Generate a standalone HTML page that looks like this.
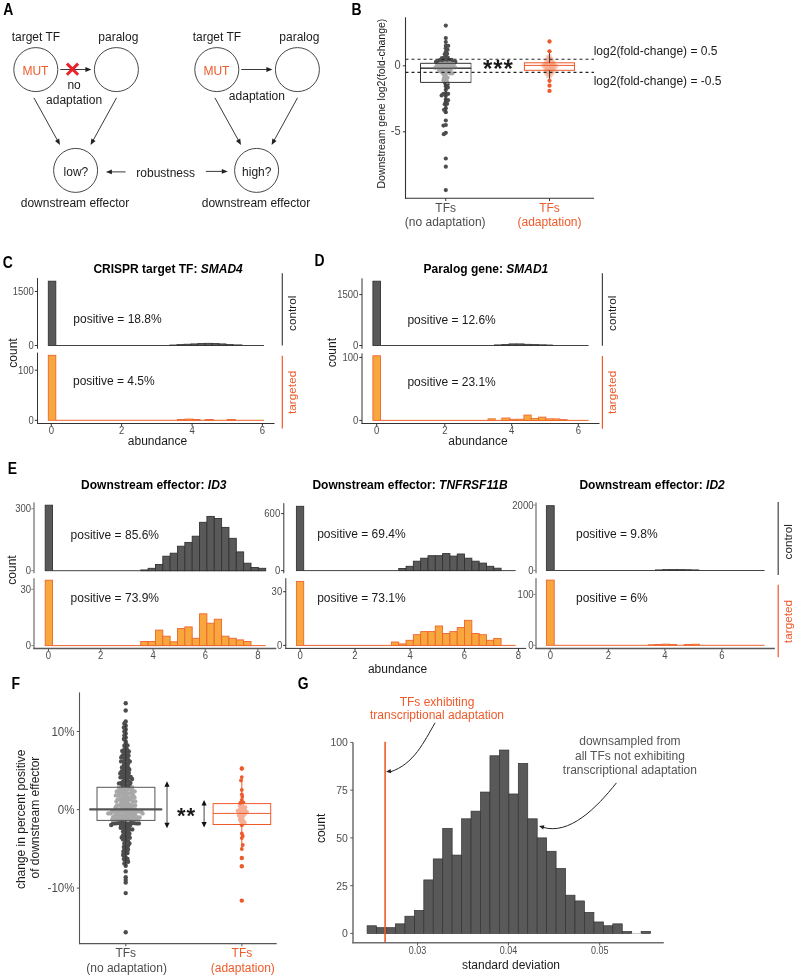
<!DOCTYPE html>
<html><head><meta charset="utf-8"><title>figure</title>
<style>html,body{margin:0;padding:0;background:#fff;} svg{display:block;will-change:transform;font-family:"Liberation Sans", sans-serif;}</style>
</head><body>
<svg width="796" height="977" viewBox="0 0 796 977" font-family='"Liberation Sans", sans-serif'><text transform="translate(3.20,14.90) scale(0.87,1)" font-size="16" font-weight="bold" fill="#000">A</text>
<text transform="translate(351.50,14.90) scale(0.87,1)" font-size="16" font-weight="bold" fill="#000">B</text>
<text transform="translate(2.80,267.60) scale(0.87,1)" font-size="16" font-weight="bold" fill="#000">C</text>
<text transform="translate(314.50,265.90) scale(0.87,1)" font-size="16" font-weight="bold" fill="#000">D</text>
<text transform="translate(7.80,473.60) scale(0.87,1)" font-size="16" font-weight="bold" fill="#000">E</text>
<text transform="translate(11.60,688.60) scale(0.87,1)" font-size="16" font-weight="bold" fill="#000">F</text>
<text transform="translate(297.80,688.90) scale(0.87,1)" font-size="16" font-weight="bold" fill="#000">G</text>
<text x="35.90" y="40.80" font-size="12" text-anchor="middle" fill="#1a1a1a" >target TF</text>
<text x="118.30" y="40.80" font-size="12" text-anchor="middle" fill="#1a1a1a" >paralog</text>
<circle cx="35.80" cy="69.60" r="22.00" fill="none" stroke="#333" stroke-width="0.9"/>
<circle cx="116.40" cy="69.60" r="22.00" fill="none" stroke="#333" stroke-width="0.9"/>
<text x="35.40" y="75.40" font-size="12" text-anchor="middle" fill="#EF5A2A" >MUT</text>
<line x1="60.30" y1="69.50" x2="86.40" y2="69.50" stroke="#222" stroke-width="0.9" />
<polygon points="91.40,69.50 85.40,71.90 85.40,67.10" fill="#222"/>
<path d="M66.90,63.60 L78.10,74.80 M78.10,63.60 L66.90,74.80" stroke="#E8212B" stroke-width="2.9" fill="none"/>
<text x="74.10" y="88.60" font-size="12" text-anchor="middle" fill="#1a1a1a" >no</text>
<text x="74.10" y="103.60" font-size="12" text-anchor="middle" fill="#1a1a1a" >adaptation</text>
<line x1="33.90" y1="97.80" x2="57.58" y2="140.62" stroke="#222" stroke-width="0.9" />
<polygon points="60.00,145.00 55.00,140.91 59.20,138.59" fill="#222"/>
<line x1="116.50" y1="97.80" x2="93.01" y2="140.62" stroke="#222" stroke-width="0.9" />
<polygon points="90.60,145.00 91.38,138.59 95.59,140.89" fill="#222"/>
<circle cx="75.60" cy="170.40" r="22.00" fill="none" stroke="#333" stroke-width="0.9"/>
<text x="75.00" y="207.10" font-size="12" text-anchor="middle" fill="#1a1a1a" >downstream effector</text>
<text x="216.90" y="40.80" font-size="12" text-anchor="middle" fill="#1a1a1a" >target TF</text>
<text x="299.30" y="40.80" font-size="12" text-anchor="middle" fill="#1a1a1a" >paralog</text>
<circle cx="216.80" cy="69.60" r="22.00" fill="none" stroke="#333" stroke-width="0.9"/>
<circle cx="297.40" cy="69.60" r="22.00" fill="none" stroke="#333" stroke-width="0.9"/>
<text x="216.40" y="75.40" font-size="12" text-anchor="middle" fill="#EF5A2A" >MUT</text>
<line x1="241.30" y1="69.50" x2="267.40" y2="69.50" stroke="#222" stroke-width="0.9" />
<polygon points="272.40,69.50 266.40,71.90 266.40,67.10" fill="#222"/>
<text x="256.90" y="100.30" font-size="12" text-anchor="middle" fill="#1a1a1a" >adaptation</text>
<line x1="214.90" y1="97.80" x2="238.58" y2="140.62" stroke="#222" stroke-width="0.9" />
<polygon points="241.00,145.00 236.00,140.91 240.20,138.59" fill="#222"/>
<line x1="297.50" y1="97.80" x2="274.01" y2="140.62" stroke="#222" stroke-width="0.9" />
<polygon points="271.60,145.00 272.38,138.59 276.59,140.89" fill="#222"/>
<circle cx="256.60" cy="170.40" r="22.00" fill="none" stroke="#333" stroke-width="0.9"/>
<text x="256.00" y="207.10" font-size="12" text-anchor="middle" fill="#1a1a1a" >downstream effector</text>
<text x="75.90" y="176.00" font-size="12" text-anchor="middle" fill="#1a1a1a" >low?</text>
<text x="256.80" y="175.60" font-size="12" text-anchor="middle" fill="#1a1a1a" >high?</text>
<text x="165.70" y="176.80" font-size="12" text-anchor="middle" fill="#1a1a1a" >robustness</text>
<line x1="125.60" y1="171.90" x2="110.90" y2="171.90" stroke="#222" stroke-width="0.9" />
<polygon points="105.90,171.90 111.90,169.50 111.90,174.30" fill="#222"/>
<line x1="205.90" y1="171.40" x2="222.80" y2="171.40" stroke="#222" stroke-width="0.9" />
<polygon points="227.80,171.40 221.80,173.80 221.80,169.00" fill="#222"/>
<circle cx="549.50" cy="56.13" r="2.3" fill="#F59A78" fill-opacity="0.45"/>
<circle cx="547.66" cy="57.33" r="2.3" fill="#F59A78" fill-opacity="0.45"/>
<circle cx="549.50" cy="58.61" r="2.3" fill="#F59A78" fill-opacity="0.45"/>
<circle cx="551.63" cy="59.17" r="2.3" fill="#F59A78" fill-opacity="0.45"/>
<circle cx="547.79" cy="59.99" r="2.3" fill="#F59A78" fill-opacity="0.45"/>
<circle cx="550.06" cy="60.73" r="2.3" fill="#F59A78" fill-opacity="0.45"/>
<circle cx="552.17" cy="61.35" r="2.3" fill="#F59A78" fill-opacity="0.45"/>
<circle cx="546.20" cy="61.51" r="2.3" fill="#F59A78" fill-opacity="0.45"/>
<circle cx="548.52" cy="62.31" r="2.3" fill="#F59A78" fill-opacity="0.45"/>
<circle cx="553.90" cy="62.71" r="2.3" fill="#F59A78" fill-opacity="0.45"/>
<circle cx="550.58" cy="63.07" r="2.3" fill="#F59A78" fill-opacity="0.45"/>
<circle cx="546.89" cy="63.78" r="2.3" fill="#F59A78" fill-opacity="0.45"/>
<circle cx="544.69" cy="63.95" r="2.3" fill="#F59A78" fill-opacity="0.45"/>
<circle cx="552.39" cy="64.32" r="2.3" fill="#F59A78" fill-opacity="0.45"/>
<circle cx="549.50" cy="65.05" r="2.3" fill="#F59A78" fill-opacity="0.45"/>
<circle cx="554.38" cy="65.27" r="2.3" fill="#F59A78" fill-opacity="0.45"/>
<circle cx="543.08" cy="65.44" r="2.3" fill="#F59A78" fill-opacity="0.45"/>
<circle cx="546.07" cy="65.82" r="2.3" fill="#F59A78" fill-opacity="0.45"/>
<circle cx="551.30" cy="66.31" r="2.3" fill="#F59A78" fill-opacity="0.45"/>
<circle cx="556.25" cy="66.42" r="2.3" fill="#F59A78" fill-opacity="0.45"/>
<circle cx="548.77" cy="67.13" r="2.3" fill="#F59A78" fill-opacity="0.45"/>
<circle cx="553.10" cy="67.58" r="2.3" fill="#F59A78" fill-opacity="0.45"/>
<circle cx="545.04" cy="67.77" r="2.3" fill="#F59A78" fill-opacity="0.45"/>
<circle cx="550.52" cy="68.46" r="2.3" fill="#F59A78" fill-opacity="0.45"/>
<circle cx="547.63" cy="69.01" r="2.3" fill="#F59A78" fill-opacity="0.45"/>
<circle cx="554.49" cy="69.28" r="2.3" fill="#F59A78" fill-opacity="0.45"/>
<circle cx="552.22" cy="69.86" r="2.3" fill="#F59A78" fill-opacity="0.45"/>
<circle cx="545.67" cy="70.02" r="2.3" fill="#F59A78" fill-opacity="0.45"/>
<circle cx="549.50" cy="70.48" r="2.3" fill="#F59A78" fill-opacity="0.45"/>
<circle cx="547.60" cy="71.59" r="2.3" fill="#F59A78" fill-opacity="0.45"/>
<circle cx="553.31" cy="71.77" r="2.3" fill="#F59A78" fill-opacity="0.45"/>
<circle cx="550.70" cy="72.33" r="2.3" fill="#F59A78" fill-opacity="0.45"/>
<circle cx="546.26" cy="73.34" r="2.3" fill="#F59A78" fill-opacity="0.45"/>
<circle cx="549.11" cy="73.85" r="2.3" fill="#F59A78" fill-opacity="0.45"/>
<circle cx="551.55" cy="74.36" r="2.3" fill="#F59A78" fill-opacity="0.45"/>
<circle cx="547.84" cy="75.64" r="2.3" fill="#F59A78" fill-opacity="0.45"/>
<circle cx="549.73" cy="76.76" r="2.3" fill="#F59A78" fill-opacity="0.45"/>
<line x1="420.50" y1="63.30" x2="420.50" y2="82.40" stroke="#333333" stroke-width="1" />
<line x1="471.00" y1="63.30" x2="471.00" y2="82.40" stroke="#9a9a9a" stroke-width="1.4" />
<line x1="420.50" y1="68.20" x2="471.20" y2="68.20" stroke="#333333" stroke-width="1" />
<line x1="445.80" y1="38.00" x2="445.80" y2="63.30" stroke="#333333" stroke-width="1" />
<line x1="445.80" y1="82.40" x2="445.80" y2="113.00" stroke="#333333" stroke-width="1" />
<circle cx="445.80" cy="45.80" r="2.1" fill="#4D4D4D"/>
<circle cx="448.20" cy="45.80" r="2.1" fill="#4D4D4D"/>
<circle cx="445.80" cy="48.20" r="2.1" fill="#4D4D4D"/>
<circle cx="447.59" cy="49.80" r="2.1" fill="#4D4D4D"/>
<circle cx="445.80" cy="51.80" r="2.1" fill="#4D4D4D"/>
<circle cx="447.13" cy="53.80" r="2.1" fill="#4D4D4D"/>
<circle cx="444.76" cy="54.20" r="2.1" fill="#4D4D4D"/>
<circle cx="446.09" cy="56.20" r="2.1" fill="#4D4D4D"/>
<circle cx="444.30" cy="57.80" r="2.1" fill="#4D4D4D"/>
<circle cx="441.93" cy="58.20" r="2.1" fill="#4D4D4D"/>
<circle cx="447.88" cy="57.80" r="2.1" fill="#4D4D4D"/>
<circle cx="443.43" cy="60.20" r="2.1" fill="#4D4D4D"/>
<circle cx="445.80" cy="59.80" r="2.1" fill="#4D4D4D"/>
<circle cx="449.20" cy="59.80" r="2.1" fill="#4D4D4D"/>
<circle cx="440.14" cy="59.80" r="2.1" fill="#4D4D4D"/>
<circle cx="451.60" cy="59.80" r="2.1" fill="#4D4D4D"/>
<circle cx="447.13" cy="61.80" r="2.1" fill="#4D4D4D"/>
<circle cx="438.35" cy="61.40" r="2.1" fill="#4D4D4D"/>
<circle cx="441.64" cy="61.80" r="2.1" fill="#4D4D4D"/>
<circle cx="452.93" cy="61.80" r="2.1" fill="#4D4D4D"/>
<circle cx="455.33" cy="61.80" r="2.1" fill="#4D4D4D"/>
<circle cx="435.99" cy="61.80" r="2.1" fill="#4D4D4D"/>
<circle cx="447.60" cy="84.20" r="2.1" fill="#4D4D4D"/>
<circle cx="445.34" cy="83.40" r="2.1" fill="#4D4D4D"/>
<circle cx="445.80" cy="86.20" r="2.1" fill="#4D4D4D"/>
<circle cx="447.88" cy="87.40" r="2.1" fill="#4D4D4D"/>
<circle cx="445.80" cy="89.80" r="2.1" fill="#4D4D4D"/>
<circle cx="443.43" cy="93.80" r="2.1" fill="#4D4D4D"/>
<circle cx="445.80" cy="93.40" r="2.1" fill="#4D4D4D"/>
<circle cx="448.17" cy="93.80" r="2.1" fill="#4D4D4D"/>
<circle cx="441.64" cy="95.40" r="2.1" fill="#4D4D4D"/>
<circle cx="445.80" cy="95.80" r="2.1" fill="#4D4D4D"/>
<circle cx="445.80" cy="99.40" r="2.1" fill="#4D4D4D"/>
<circle cx="448.06" cy="100.20" r="2.1" fill="#4D4D4D"/>
<circle cx="445.80" cy="101.80" r="2.1" fill="#4D4D4D"/>
<circle cx="444.76" cy="104.20" r="2.1" fill="#4D4D4D"/>
<circle cx="447.13" cy="103.80" r="2.1" fill="#4D4D4D"/>
<circle cx="445.80" cy="108.20" r="2.1" fill="#4D4D4D"/>
<circle cx="444.01" cy="109.80" r="2.1" fill="#4D4D4D"/>
<circle cx="445.80" cy="112.20" r="2.1" fill="#4D4D4D"/>
<circle cx="445.80" cy="25.60" r="2.1" fill="#4D4D4D"/>
<circle cx="445.80" cy="38.00" r="2.1" fill="#4D4D4D"/>
<circle cx="445.80" cy="42.00" r="2.1" fill="#4D4D4D"/>
<circle cx="445.80" cy="120.50" r="2.1" fill="#4D4D4D"/>
<circle cx="445.80" cy="125.00" r="2.1" fill="#4D4D4D"/>
<circle cx="443.48" cy="125.60" r="2.1" fill="#4D4D4D"/>
<circle cx="445.80" cy="132.80" r="2.1" fill="#4D4D4D"/>
<circle cx="443.85" cy="134.20" r="2.1" fill="#4D4D4D"/>
<circle cx="445.80" cy="158.50" r="2.1" fill="#4D4D4D"/>
<circle cx="445.80" cy="166.70" r="2.1" fill="#4D4D4D"/>
<circle cx="445.80" cy="190.10" r="2.1" fill="#4D4D4D"/>
<circle cx="442.97" cy="63.80" r="2.1" fill="#A8A8A8"/>
<circle cx="451.28" cy="63.80" r="2.1" fill="#A8A8A8"/>
<circle cx="445.34" cy="63.40" r="2.1" fill="#A8A8A8"/>
<circle cx="448.92" cy="63.40" r="2.1" fill="#A8A8A8"/>
<circle cx="440.32" cy="63.80" r="2.1" fill="#A8A8A8"/>
<circle cx="453.65" cy="64.20" r="2.1" fill="#A8A8A8"/>
<circle cx="445.80" cy="65.80" r="2.1" fill="#A8A8A8"/>
<circle cx="448.20" cy="65.80" r="2.1" fill="#A8A8A8"/>
<circle cx="441.64" cy="65.80" r="2.1" fill="#A8A8A8"/>
<circle cx="438.99" cy="65.80" r="2.1" fill="#A8A8A8"/>
<circle cx="436.59" cy="65.80" r="2.1" fill="#A8A8A8"/>
<circle cx="450.57" cy="66.20" r="2.1" fill="#A8A8A8"/>
<circle cx="440.32" cy="67.80" r="2.1" fill="#A8A8A8"/>
<circle cx="446.27" cy="68.20" r="2.1" fill="#A8A8A8"/>
<circle cx="444.01" cy="67.40" r="2.1" fill="#A8A8A8"/>
<circle cx="435.26" cy="67.80" r="2.1" fill="#A8A8A8"/>
<circle cx="452.64" cy="67.40" r="2.1" fill="#A8A8A8"/>
<circle cx="455.04" cy="67.40" r="2.1" fill="#A8A8A8"/>
<circle cx="448.35" cy="69.40" r="2.1" fill="#A8A8A8"/>
<circle cx="450.72" cy="69.80" r="2.1" fill="#A8A8A8"/>
<circle cx="438.99" cy="69.80" r="2.1" fill="#A8A8A8"/>
<circle cx="442.68" cy="69.40" r="2.1" fill="#A8A8A8"/>
<circle cx="448.17" cy="71.80" r="2.1" fill="#A8A8A8"/>
<circle cx="445.80" cy="71.40" r="2.1" fill="#A8A8A8"/>
<circle cx="443.43" cy="71.80" r="2.1" fill="#A8A8A8"/>
<circle cx="441.03" cy="71.80" r="2.1" fill="#A8A8A8"/>
<circle cx="443.43" cy="74.20" r="2.1" fill="#A8A8A8"/>
<circle cx="449.96" cy="73.40" r="2.1" fill="#A8A8A8"/>
<circle cx="452.36" cy="73.40" r="2.1" fill="#A8A8A8"/>
<circle cx="445.80" cy="73.80" r="2.1" fill="#A8A8A8"/>
<circle cx="445.80" cy="76.20" r="2.1" fill="#A8A8A8"/>
<circle cx="447.59" cy="77.80" r="2.1" fill="#A8A8A8"/>
<circle cx="444.01" cy="77.80" r="2.1" fill="#A8A8A8"/>
<circle cx="445.80" cy="79.80" r="2.1" fill="#A8A8A8"/>
<circle cx="443.43" cy="80.20" r="2.1" fill="#A8A8A8"/>
<circle cx="447.13" cy="81.80" r="2.1" fill="#A8A8A8"/>
<line x1="420.50" y1="63.30" x2="471.20" y2="63.30" stroke="#333333" stroke-width="1" />
<line x1="420.50" y1="68.20" x2="471.20" y2="68.20" stroke="#333333" stroke-width="1" />
<line x1="420.50" y1="82.40" x2="471.20" y2="82.40" stroke="#333333" stroke-width="1" />
<line x1="445.80" y1="82.40" x2="445.80" y2="113.00" stroke="#333333" stroke-width="0.8" />
<line x1="405.50" y1="59.20" x2="594.00" y2="59.20" stroke="#222" stroke-width="1.1" stroke-dasharray="3 3"/>
<line x1="405.50" y1="72.40" x2="594.00" y2="72.40" stroke="#222" stroke-width="1.1" stroke-dasharray="3 3"/>
<text x="498.30" y="77.10" font-size="24" text-anchor="middle" fill="#1a1a1a" font-weight="bold" letter-spacing="0.9">***</text>
<rect x="524.40" y="62.80" width="50.10" height="7.50" fill="none" stroke="#EF5A2A" stroke-width="1" />
<line x1="524.40" y1="65.40" x2="574.50" y2="65.40" stroke="#EF5A2A" stroke-width="1" />
<line x1="549.50" y1="51.80" x2="549.50" y2="62.80" stroke="#333" stroke-width="0.9" />
<line x1="549.50" y1="70.30" x2="549.50" y2="78.80" stroke="#333" stroke-width="0.9" />
<circle cx="549.50" cy="41.50" r="2.15" fill="#EF5A2A"/>
<circle cx="549.50" cy="51.30" r="2.15" fill="#EF5A2A"/>
<circle cx="549.50" cy="80.80" r="2.15" fill="#EF5A2A"/>
<circle cx="549.50" cy="85.70" r="2.15" fill="#EF5A2A"/>
<circle cx="549.50" cy="90.90" r="2.15" fill="#EF5A2A"/>
<line x1="405.50" y1="17.30" x2="405.50" y2="198.80" stroke="#333333" stroke-width="1.1" />
<line x1="405.00" y1="198.30" x2="594.00" y2="198.30" stroke="#333333" stroke-width="1.1" />
<line x1="402.80" y1="65.80" x2="405.50" y2="65.80" stroke="#333333" stroke-width="1" />
<line x1="402.80" y1="131.80" x2="405.50" y2="131.80" stroke="#333333" stroke-width="1" />
<text transform="translate(400.60,68.80) scale(0.9,1)" font-size="12.3" text-anchor="end" fill="#4D4D4D">0</text>
<text transform="translate(400.60,134.80) scale(0.9,1)" font-size="12.3" text-anchor="end" fill="#4D4D4D">-5</text>
<line x1="445.70" y1="198.30" x2="445.70" y2="201.00" stroke="#333333" stroke-width="1" />
<line x1="549.50" y1="198.30" x2="549.50" y2="201.00" stroke="#333333" stroke-width="1" />
<text transform="translate(384.50,103.60) rotate(-90)" font-size="10.5" text-anchor="middle" fill="#1a1a1a">Downstream gene log2(fold-change)</text>
<text x="445.70" y="212.10" font-size="12" text-anchor="middle" fill="#4D4D4D" >TFs</text>
<text x="445.20" y="226.30" font-size="12" text-anchor="middle" fill="#4D4D4D" >(no adaptation)</text>
<text x="549.50" y="212.10" font-size="12" text-anchor="middle" fill="#EF5A2A" >TFs</text>
<text x="549.50" y="226.30" font-size="12" text-anchor="middle" fill="#EF5A2A" >(adaptation)</text>
<text x="593.70" y="55.10" font-size="12" text-anchor="start" fill="#1a1a1a" >log2(fold-change) = 0.5</text>
<text x="593.70" y="84.90" font-size="12" text-anchor="start" fill="#1a1a1a" >log2(fold-change) = -0.5</text>
<text x="93.4" y="273.4" font-size="12" font-weight="bold" fill="#000">CRISPR target TF: <tspan font-style="italic">SMAD4</tspan></text>
<text x="423.6" y="273.2" font-size="12" font-weight="bold" fill="#000">Paralog gene: <tspan font-style="italic">SMAD1</tspan></text>
<rect x="48.30" y="281.20" width="7.50" height="64.30" fill="#595959" stroke="#333333" stroke-width="0.9" />
<line x1="55.80" y1="345.50" x2="264.00" y2="345.50" stroke="#444" stroke-width="1" />
<rect x="48.30" y="355.30" width="7.50" height="65.00" fill="#F8A73C" stroke="#EE6430" stroke-width="0.9" />
<line x1="55.80" y1="420.30" x2="264.00" y2="420.30" stroke="#EE6430" stroke-width="1" />
<line x1="37.50" y1="278.10" x2="37.50" y2="348.80" stroke="#333333" stroke-width="1.0" />
<line x1="37.50" y1="352.60" x2="37.50" y2="424.00" stroke="#333333" stroke-width="1.0" />
<line x1="37.00" y1="423.50" x2="274.50" y2="423.50" stroke="#333333" stroke-width="1.0" />
<line x1="34.80" y1="291.50" x2="37.50" y2="291.50" stroke="#333333" stroke-width="1" />
<text transform="translate(33.90,295.29) scale(0.9,1)" font-size="10.6" text-anchor="end" fill="#4D4D4D">1500</text>
<line x1="34.80" y1="345.50" x2="37.50" y2="345.50" stroke="#333333" stroke-width="1" />
<text transform="translate(33.90,349.29) scale(0.9,1)" font-size="10.6" text-anchor="end" fill="#4D4D4D">0</text>
<line x1="34.80" y1="370.20" x2="37.50" y2="370.20" stroke="#333333" stroke-width="1" />
<text transform="translate(33.90,373.99) scale(0.9,1)" font-size="10.6" text-anchor="end" fill="#4D4D4D">100</text>
<line x1="34.80" y1="420.30" x2="37.50" y2="420.30" stroke="#333333" stroke-width="1" />
<text transform="translate(33.90,424.09) scale(0.9,1)" font-size="10.6" text-anchor="end" fill="#4D4D4D">0</text>
<line x1="51.30" y1="423.50" x2="51.30" y2="426.20" stroke="#333333" stroke-width="1" />
<text transform="translate(51.30,434.29) scale(0.9,1)" font-size="10.6" text-anchor="middle" fill="#4D4D4D">0</text>
<line x1="121.60" y1="423.50" x2="121.60" y2="426.20" stroke="#333333" stroke-width="1" />
<text transform="translate(121.60,434.29) scale(0.9,1)" font-size="10.6" text-anchor="middle" fill="#4D4D4D">2</text>
<line x1="192.10" y1="423.50" x2="192.10" y2="426.20" stroke="#333333" stroke-width="1" />
<text transform="translate(192.10,434.29) scale(0.9,1)" font-size="10.6" text-anchor="middle" fill="#4D4D4D">4</text>
<line x1="262.40" y1="423.50" x2="262.40" y2="426.20" stroke="#333333" stroke-width="1" />
<text transform="translate(262.40,434.29) scale(0.9,1)" font-size="10.6" text-anchor="middle" fill="#4D4D4D">6</text>
<rect x="169.80" y="345.00" width="7.20" height="0.50" fill="#595959" stroke="#333333" stroke-width="0.8" />
<rect x="177.00" y="344.60" width="7.00" height="0.90" fill="#595959" stroke="#333333" stroke-width="0.8" />
<rect x="184.00" y="344.20" width="7.00" height="1.30" fill="#595959" stroke="#333333" stroke-width="0.8" />
<rect x="191.00" y="343.90" width="7.00" height="1.60" fill="#595959" stroke="#333333" stroke-width="0.8" />
<rect x="198.00" y="343.50" width="7.00" height="2.00" fill="#595959" stroke="#333333" stroke-width="0.8" />
<rect x="205.00" y="343.30" width="7.00" height="2.20" fill="#595959" stroke="#333333" stroke-width="0.8" />
<rect x="212.00" y="343.50" width="7.00" height="2.00" fill="#595959" stroke="#333333" stroke-width="0.8" />
<rect x="219.00" y="343.90" width="7.00" height="1.60" fill="#595959" stroke="#333333" stroke-width="0.8" />
<rect x="226.00" y="344.50" width="7.00" height="1.00" fill="#595959" stroke="#333333" stroke-width="0.8" />
<rect x="233.00" y="344.90" width="9.00" height="0.60" fill="#595959" stroke="#333333" stroke-width="0.8" />
<rect x="177.30" y="419.50" width="7.70" height="0.80" fill="#F8A73C" stroke="#EE6430" stroke-width="0.8" />
<rect x="185.00" y="419.00" width="8.00" height="1.30" fill="#F8A73C" stroke="#EE6430" stroke-width="0.8" />
<rect x="193.00" y="419.40" width="7.00" height="0.90" fill="#F8A73C" stroke="#EE6430" stroke-width="0.8" />
<rect x="205.20" y="419.40" width="8.30" height="0.90" fill="#F8A73C" stroke="#EE6430" stroke-width="0.8" />
<rect x="227.00" y="419.40" width="8.40" height="0.90" fill="#F8A73C" stroke="#EE6430" stroke-width="0.8" />
<text x="73.30" y="322.90" font-size="12" text-anchor="start" fill="#1a1a1a" >positive = 18.8%</text>
<text x="73.00" y="385.20" font-size="12" text-anchor="start" fill="#1a1a1a" >positive = 4.5%</text>
<text x="157.50" y="445.00" font-size="12" text-anchor="middle" fill="#1a1a1a" >abundance</text>
<text transform="translate(17.00,353.00) rotate(-90)" font-size="12" text-anchor="middle" fill="#1a1a1a">count</text>
<line x1="282.30" y1="273.30" x2="282.30" y2="345.60" stroke="#444" stroke-width="1.2" />
<line x1="282.30" y1="355.70" x2="282.30" y2="428.40" stroke="#EF5A2A" stroke-width="1.2" />
<text transform="translate(295.70,313.30) rotate(-90)" font-size="11.8" text-anchor="middle" fill="#1a1a1a">control</text>
<text transform="translate(295.70,392.40) rotate(-90)" font-size="11.8" text-anchor="middle" fill="#EF5A2A">targeted</text>
<rect x="372.90" y="281.20" width="7.60" height="64.30" fill="#595959" stroke="#333333" stroke-width="0.9" />
<line x1="380.50" y1="345.50" x2="588.60" y2="345.50" stroke="#444" stroke-width="1" />
<rect x="372.90" y="355.80" width="7.60" height="64.60" fill="#F8A73C" stroke="#EE6430" stroke-width="0.9" />
<line x1="380.50" y1="420.40" x2="588.60" y2="420.40" stroke="#EE6430" stroke-width="1" />
<line x1="362.00" y1="278.30" x2="362.00" y2="348.80" stroke="#333333" stroke-width="1.0" />
<line x1="362.00" y1="353.30" x2="362.00" y2="424.00" stroke="#333333" stroke-width="1.0" />
<line x1="361.50" y1="423.50" x2="599.50" y2="423.50" stroke="#333333" stroke-width="1.0" />
<line x1="359.30" y1="294.60" x2="362.00" y2="294.60" stroke="#333333" stroke-width="1" />
<text transform="translate(358.40,298.39) scale(0.9,1)" font-size="10.6" text-anchor="end" fill="#4D4D4D">1500</text>
<line x1="359.30" y1="345.50" x2="362.00" y2="345.50" stroke="#333333" stroke-width="1" />
<text transform="translate(358.40,349.29) scale(0.9,1)" font-size="10.6" text-anchor="end" fill="#4D4D4D">0</text>
<line x1="359.30" y1="357.40" x2="362.00" y2="357.40" stroke="#333333" stroke-width="1" />
<text transform="translate(358.40,361.19) scale(0.9,1)" font-size="10.6" text-anchor="end" fill="#4D4D4D">100</text>
<line x1="359.30" y1="420.40" x2="362.00" y2="420.40" stroke="#333333" stroke-width="1" />
<text transform="translate(358.40,424.19) scale(0.9,1)" font-size="10.6" text-anchor="end" fill="#4D4D4D">0</text>
<line x1="376.70" y1="423.50" x2="376.70" y2="426.20" stroke="#333333" stroke-width="1" />
<text transform="translate(376.70,434.29) scale(0.9,1)" font-size="10.6" text-anchor="middle" fill="#4D4D4D">0</text>
<line x1="444.80" y1="423.50" x2="444.80" y2="426.20" stroke="#333333" stroke-width="1" />
<text transform="translate(444.80,434.29) scale(0.9,1)" font-size="10.6" text-anchor="middle" fill="#4D4D4D">2</text>
<line x1="511.70" y1="423.50" x2="511.70" y2="426.20" stroke="#333333" stroke-width="1" />
<text transform="translate(511.70,434.29) scale(0.9,1)" font-size="10.6" text-anchor="middle" fill="#4D4D4D">4</text>
<line x1="578.30" y1="423.50" x2="578.30" y2="426.20" stroke="#333333" stroke-width="1" />
<text transform="translate(578.30,434.29) scale(0.9,1)" font-size="10.6" text-anchor="middle" fill="#4D4D4D">6</text>
<rect x="494.50" y="344.90" width="7.50" height="0.60" fill="#595959" stroke="#333333" stroke-width="0.8" />
<rect x="502.00" y="344.50" width="7.00" height="1.00" fill="#595959" stroke="#333333" stroke-width="0.8" />
<rect x="509.00" y="343.90" width="7.50" height="1.60" fill="#595959" stroke="#333333" stroke-width="0.8" />
<rect x="516.50" y="343.90" width="7.50" height="1.60" fill="#595959" stroke="#333333" stroke-width="0.8" />
<rect x="524.00" y="344.30" width="7.00" height="1.20" fill="#595959" stroke="#333333" stroke-width="0.8" />
<rect x="531.00" y="344.60" width="7.60" height="0.90" fill="#595959" stroke="#333333" stroke-width="0.8" />
<rect x="538.60" y="344.80" width="7.40" height="0.70" fill="#595959" stroke="#333333" stroke-width="0.8" />
<rect x="546.00" y="345.00" width="6.50" height="0.50" fill="#595959" stroke="#333333" stroke-width="0.8" />
<rect x="488.00" y="418.80" width="7.30" height="1.60" fill="#F8A73C" stroke="#EE6430" stroke-width="0.8" />
<rect x="501.80" y="418.00" width="8.20" height="2.40" fill="#F8A73C" stroke="#EE6430" stroke-width="0.8" />
<rect x="510.00" y="419.30" width="6.50" height="1.10" fill="#F8A73C" stroke="#EE6430" stroke-width="0.8" />
<rect x="516.50" y="419.20" width="7.40" height="1.20" fill="#F8A73C" stroke="#EE6430" stroke-width="0.8" />
<rect x="523.90" y="415.00" width="7.30" height="5.40" fill="#F8A73C" stroke="#EE6430" stroke-width="0.8" />
<rect x="531.20" y="418.40" width="7.40" height="2.00" fill="#F8A73C" stroke="#EE6430" stroke-width="0.8" />
<rect x="538.60" y="417.10" width="7.30" height="3.30" fill="#F8A73C" stroke="#EE6430" stroke-width="0.8" />
<rect x="545.90" y="418.80" width="7.40" height="1.60" fill="#F8A73C" stroke="#EE6430" stroke-width="0.8" />
<rect x="553.30" y="418.90" width="6.50" height="1.50" fill="#F8A73C" stroke="#EE6430" stroke-width="0.8" />
<rect x="559.80" y="419.60" width="7.40" height="0.80" fill="#F8A73C" stroke="#EE6430" stroke-width="0.8" />
<text x="407.40" y="323.70" font-size="12" text-anchor="start" fill="#1a1a1a" >positive = 12.6%</text>
<text x="407.40" y="385.90" font-size="12" text-anchor="start" fill="#1a1a1a" >positive = 23.1%</text>
<text x="478.00" y="445.00" font-size="12" text-anchor="middle" fill="#1a1a1a" >abundance</text>
<text transform="translate(335.80,352.70) rotate(-90)" font-size="12" text-anchor="middle" fill="#1a1a1a">count</text>
<line x1="602.40" y1="273.30" x2="602.40" y2="345.70" stroke="#444" stroke-width="1.2" />
<line x1="602.40" y1="355.90" x2="602.40" y2="428.70" stroke="#EF5A2A" stroke-width="1.2" />
<text transform="translate(615.60,313.30) rotate(-90)" font-size="11.8" text-anchor="middle" fill="#1a1a1a">control</text>
<text transform="translate(615.60,392.40) rotate(-90)" font-size="11.8" text-anchor="middle" fill="#EF5A2A">targeted</text>
<text x="81.1" y="488.9" font-size="12" font-weight="bold" fill="#000">Downstream effector: <tspan font-style="italic">ID3</tspan></text>
<text x="312.4" y="488.9" font-size="12" font-weight="bold" fill="#000">Downstream effector: <tspan font-style="italic">TNFRSF11B</tspan></text>
<text x="579.4" y="488.9" font-size="12" font-weight="bold" fill="#000">Downstream effector: <tspan font-style="italic">ID2</tspan></text>
<rect x="45.20" y="505.20" width="7.35" height="65.50" fill="#595959" stroke="#333333" stroke-width="0.9" />
<line x1="52.55" y1="570.70" x2="265.70" y2="570.70" stroke="#444" stroke-width="1" />
<rect x="45.20" y="580.20" width="7.35" height="65.40" fill="#F8A73C" stroke="#EE6430" stroke-width="0.9" />
<line x1="52.55" y1="645.60" x2="265.70" y2="645.60" stroke="#EE6430" stroke-width="1" />
<line x1="34.00" y1="502.60" x2="34.00" y2="573.30" stroke="#8a8a8a" stroke-width="1.5" />
<line x1="34.00" y1="578.20" x2="34.00" y2="648.90" stroke="#8a8a8a" stroke-width="1.5" />
<line x1="33.25" y1="648.40" x2="276.30" y2="648.40" stroke="#5a5a5a" stroke-width="1.5" />
<line x1="31.30" y1="508.70" x2="34.00" y2="508.70" stroke="#8a8a8a" stroke-width="1" />
<text transform="translate(31.10,512.49) scale(0.9,1)" font-size="10.6" text-anchor="end" fill="#4D4D4D">300</text>
<line x1="31.30" y1="570.70" x2="34.00" y2="570.70" stroke="#8a8a8a" stroke-width="1" />
<text transform="translate(31.10,574.49) scale(0.9,1)" font-size="10.6" text-anchor="end" fill="#4D4D4D">0</text>
<line x1="31.30" y1="589.30" x2="34.00" y2="589.30" stroke="#8a8a8a" stroke-width="1" />
<text transform="translate(31.10,593.09) scale(0.9,1)" font-size="10.6" text-anchor="end" fill="#4D4D4D">30</text>
<line x1="31.30" y1="645.60" x2="34.00" y2="645.60" stroke="#8a8a8a" stroke-width="1" />
<text transform="translate(31.10,649.39) scale(0.9,1)" font-size="10.6" text-anchor="end" fill="#4D4D4D">0</text>
<line x1="48.50" y1="648.40" x2="48.50" y2="651.10" stroke="#5a5a5a" stroke-width="1" />
<text transform="translate(48.50,659.19) scale(0.9,1)" font-size="10.6" text-anchor="middle" fill="#4D4D4D">0</text>
<line x1="100.70" y1="648.40" x2="100.70" y2="651.10" stroke="#5a5a5a" stroke-width="1" />
<text transform="translate(100.70,659.19) scale(0.9,1)" font-size="10.6" text-anchor="middle" fill="#4D4D4D">2</text>
<line x1="153.10" y1="648.40" x2="153.10" y2="651.10" stroke="#5a5a5a" stroke-width="1" />
<text transform="translate(153.10,659.19) scale(0.9,1)" font-size="10.6" text-anchor="middle" fill="#4D4D4D">4</text>
<line x1="205.30" y1="648.40" x2="205.30" y2="651.10" stroke="#5a5a5a" stroke-width="1" />
<text transform="translate(205.30,659.19) scale(0.9,1)" font-size="10.6" text-anchor="middle" fill="#4D4D4D">6</text>
<line x1="257.80" y1="648.40" x2="257.80" y2="651.10" stroke="#5a5a5a" stroke-width="1" />
<text transform="translate(257.80,659.19) scale(0.9,1)" font-size="10.6" text-anchor="middle" fill="#4D4D4D">8</text>
<rect x="140.75" y="569.95" width="7.35" height="0.75" fill="#595959" stroke="#333333" stroke-width="0.9" />
<rect x="148.10" y="568.30" width="7.35" height="2.40" fill="#595959" stroke="#333333" stroke-width="0.9" />
<rect x="155.45" y="564.50" width="7.35" height="6.20" fill="#595959" stroke="#333333" stroke-width="0.9" />
<rect x="162.80" y="556.20" width="7.35" height="14.50" fill="#595959" stroke="#333333" stroke-width="0.9" />
<rect x="170.15" y="553.20" width="7.35" height="17.50" fill="#595959" stroke="#333333" stroke-width="0.9" />
<rect x="177.50" y="546.20" width="7.35" height="24.50" fill="#595959" stroke="#333333" stroke-width="0.9" />
<rect x="184.85" y="542.40" width="7.35" height="28.30" fill="#595959" stroke="#333333" stroke-width="0.9" />
<rect x="192.20" y="536.20" width="7.35" height="34.50" fill="#595959" stroke="#333333" stroke-width="0.9" />
<rect x="199.55" y="522.30" width="7.35" height="48.40" fill="#595959" stroke="#333333" stroke-width="0.9" />
<rect x="206.90" y="516.40" width="7.35" height="54.30" fill="#595959" stroke="#333333" stroke-width="0.9" />
<rect x="214.25" y="518.50" width="7.35" height="52.20" fill="#595959" stroke="#333333" stroke-width="0.9" />
<rect x="221.60" y="527.40" width="7.35" height="43.30" fill="#595959" stroke="#333333" stroke-width="0.9" />
<rect x="228.95" y="538.30" width="7.35" height="32.40" fill="#595959" stroke="#333333" stroke-width="0.9" />
<rect x="236.30" y="551.90" width="7.35" height="18.80" fill="#595959" stroke="#333333" stroke-width="0.9" />
<rect x="243.65" y="563.20" width="7.35" height="7.50" fill="#595959" stroke="#333333" stroke-width="0.9" />
<rect x="251.00" y="567.50" width="7.35" height="3.20" fill="#595959" stroke="#333333" stroke-width="0.9" />
<rect x="258.35" y="568.30" width="7.35" height="2.40" fill="#595959" stroke="#333333" stroke-width="0.9" />
<rect x="140.75" y="641.50" width="7.35" height="4.10" fill="#F8A73C" stroke="#EE6430" stroke-width="0.9" />
<rect x="148.10" y="641.50" width="7.35" height="4.10" fill="#F8A73C" stroke="#EE6430" stroke-width="0.9" />
<rect x="155.45" y="630.10" width="7.35" height="15.50" fill="#F8A73C" stroke="#EE6430" stroke-width="0.9" />
<rect x="162.80" y="636.20" width="7.35" height="9.40" fill="#F8A73C" stroke="#EE6430" stroke-width="0.9" />
<rect x="170.15" y="641.80" width="7.35" height="3.80" fill="#F8A73C" stroke="#EE6430" stroke-width="0.9" />
<rect x="177.50" y="628.60" width="7.35" height="17.00" fill="#F8A73C" stroke="#EE6430" stroke-width="0.9" />
<rect x="184.85" y="626.90" width="7.35" height="18.70" fill="#F8A73C" stroke="#EE6430" stroke-width="0.9" />
<rect x="192.20" y="638.30" width="7.35" height="7.30" fill="#F8A73C" stroke="#EE6430" stroke-width="0.9" />
<rect x="199.55" y="613.80" width="7.35" height="31.80" fill="#F8A73C" stroke="#EE6430" stroke-width="0.9" />
<rect x="206.90" y="623.20" width="7.35" height="22.40" fill="#F8A73C" stroke="#EE6430" stroke-width="0.9" />
<rect x="214.25" y="619.20" width="7.35" height="26.40" fill="#F8A73C" stroke="#EE6430" stroke-width="0.9" />
<rect x="221.60" y="636.20" width="7.35" height="9.40" fill="#F8A73C" stroke="#EE6430" stroke-width="0.9" />
<rect x="228.95" y="638.30" width="7.35" height="7.30" fill="#F8A73C" stroke="#EE6430" stroke-width="0.9" />
<rect x="236.30" y="639.90" width="7.35" height="5.70" fill="#F8A73C" stroke="#EE6430" stroke-width="0.9" />
<rect x="243.65" y="641.50" width="7.35" height="4.10" fill="#F8A73C" stroke="#EE6430" stroke-width="0.9" />
<text x="70.60" y="539.10" font-size="12" text-anchor="start" fill="#1a1a1a" >positive = 85.6%</text>
<text x="70.60" y="601.50" font-size="12" text-anchor="start" fill="#1a1a1a" >positive = 73.9%</text>
<rect x="296.40" y="506.30" width="7.31" height="64.30" fill="#595959" stroke="#333333" stroke-width="0.9" />
<line x1="303.71" y1="570.60" x2="515.70" y2="570.60" stroke="#444" stroke-width="1" />
<rect x="296.40" y="581.40" width="7.31" height="64.00" fill="#F8A73C" stroke="#EE6430" stroke-width="0.9" />
<line x1="303.71" y1="645.40" x2="515.70" y2="645.40" stroke="#EE6430" stroke-width="1" />
<line x1="283.80" y1="503.20" x2="283.80" y2="573.30" stroke="#333333" stroke-width="1.0" />
<line x1="285.80" y1="578.20" x2="285.80" y2="648.90" stroke="#333333" stroke-width="1.0" />
<line x1="285.30" y1="648.40" x2="526.10" y2="648.40" stroke="#333333" stroke-width="1.0" />
<line x1="281.10" y1="513.60" x2="283.80" y2="513.60" stroke="#333333" stroke-width="1" />
<text transform="translate(280.20,517.39) scale(0.9,1)" font-size="10.6" text-anchor="end" fill="#4D4D4D">600</text>
<line x1="281.10" y1="570.60" x2="283.80" y2="570.60" stroke="#333333" stroke-width="1" />
<text transform="translate(280.20,574.39) scale(0.9,1)" font-size="10.6" text-anchor="end" fill="#4D4D4D">0</text>
<line x1="283.10" y1="591.70" x2="285.80" y2="591.70" stroke="#333333" stroke-width="1" />
<text transform="translate(282.20,595.49) scale(0.9,1)" font-size="10.6" text-anchor="end" fill="#4D4D4D">30</text>
<line x1="283.10" y1="645.40" x2="285.80" y2="645.40" stroke="#333333" stroke-width="1" />
<text transform="translate(282.20,649.19) scale(0.9,1)" font-size="10.6" text-anchor="end" fill="#4D4D4D">0</text>
<line x1="300.20" y1="648.40" x2="300.20" y2="651.10" stroke="#333333" stroke-width="1" />
<text transform="translate(300.20,659.19) scale(0.9,1)" font-size="10.6" text-anchor="middle" fill="#4D4D4D">0</text>
<line x1="355.00" y1="648.40" x2="355.00" y2="651.10" stroke="#333333" stroke-width="1" />
<text transform="translate(355.00,659.19) scale(0.9,1)" font-size="10.6" text-anchor="middle" fill="#4D4D4D">2</text>
<line x1="410.10" y1="648.40" x2="410.10" y2="651.10" stroke="#333333" stroke-width="1" />
<text transform="translate(410.10,659.19) scale(0.9,1)" font-size="10.6" text-anchor="middle" fill="#4D4D4D">4</text>
<line x1="464.40" y1="648.40" x2="464.40" y2="651.10" stroke="#333333" stroke-width="1" />
<text transform="translate(464.40,659.19) scale(0.9,1)" font-size="10.6" text-anchor="middle" fill="#4D4D4D">6</text>
<line x1="518.50" y1="648.40" x2="518.50" y2="651.10" stroke="#333333" stroke-width="1" />
<text transform="translate(518.50,659.19) scale(0.9,1)" font-size="10.6" text-anchor="middle" fill="#4D4D4D">8</text>
<rect x="398.74" y="568.50" width="7.31" height="2.10" fill="#595959" stroke="#333333" stroke-width="0.9" />
<rect x="406.05" y="566.30" width="7.31" height="4.30" fill="#595959" stroke="#333333" stroke-width="0.9" />
<rect x="413.36" y="561.20" width="7.31" height="9.40" fill="#595959" stroke="#333333" stroke-width="0.9" />
<rect x="420.67" y="558.20" width="7.31" height="12.40" fill="#595959" stroke="#333333" stroke-width="0.9" />
<rect x="427.98" y="555.70" width="7.31" height="14.90" fill="#595959" stroke="#333333" stroke-width="0.9" />
<rect x="435.29" y="555.70" width="7.31" height="14.90" fill="#595959" stroke="#333333" stroke-width="0.9" />
<rect x="442.60" y="553.60" width="7.31" height="17.00" fill="#595959" stroke="#333333" stroke-width="0.9" />
<rect x="449.91" y="556.10" width="7.31" height="14.50" fill="#595959" stroke="#333333" stroke-width="0.9" />
<rect x="457.22" y="554.00" width="7.31" height="16.60" fill="#595959" stroke="#333333" stroke-width="0.9" />
<rect x="464.53" y="558.20" width="7.31" height="12.40" fill="#595959" stroke="#333333" stroke-width="0.9" />
<rect x="471.84" y="561.20" width="7.31" height="9.40" fill="#595959" stroke="#333333" stroke-width="0.9" />
<rect x="479.15" y="563.10" width="7.31" height="7.50" fill="#595959" stroke="#333333" stroke-width="0.9" />
<rect x="486.46" y="566.30" width="7.31" height="4.30" fill="#595959" stroke="#333333" stroke-width="0.9" />
<rect x="493.77" y="568.20" width="7.31" height="2.40" fill="#595959" stroke="#333333" stroke-width="0.9" />
<rect x="391.43" y="642.00" width="7.31" height="3.40" fill="#F8A73C" stroke="#EE6430" stroke-width="0.9" />
<rect x="398.74" y="643.90" width="7.31" height="1.50" fill="#F8A73C" stroke="#EE6430" stroke-width="0.9" />
<rect x="406.05" y="640.30" width="7.31" height="5.10" fill="#F8A73C" stroke="#EE6430" stroke-width="0.9" />
<rect x="413.36" y="634.70" width="7.31" height="10.70" fill="#F8A73C" stroke="#EE6430" stroke-width="0.9" />
<rect x="420.67" y="631.60" width="7.31" height="13.80" fill="#F8A73C" stroke="#EE6430" stroke-width="0.9" />
<rect x="427.98" y="631.60" width="7.31" height="13.80" fill="#F8A73C" stroke="#EE6430" stroke-width="0.9" />
<rect x="435.29" y="626.00" width="7.31" height="19.40" fill="#F8A73C" stroke="#EE6430" stroke-width="0.9" />
<rect x="442.60" y="633.50" width="7.31" height="11.90" fill="#F8A73C" stroke="#EE6430" stroke-width="0.9" />
<rect x="449.91" y="631.60" width="7.31" height="13.80" fill="#F8A73C" stroke="#EE6430" stroke-width="0.9" />
<rect x="457.22" y="627.50" width="7.31" height="17.90" fill="#F8A73C" stroke="#EE6430" stroke-width="0.9" />
<rect x="464.53" y="620.30" width="7.31" height="25.10" fill="#F8A73C" stroke="#EE6430" stroke-width="0.9" />
<rect x="471.84" y="633.50" width="7.31" height="11.90" fill="#F8A73C" stroke="#EE6430" stroke-width="0.9" />
<rect x="479.15" y="634.70" width="7.31" height="10.70" fill="#F8A73C" stroke="#EE6430" stroke-width="0.9" />
<rect x="486.46" y="640.30" width="7.31" height="5.10" fill="#F8A73C" stroke="#EE6430" stroke-width="0.9" />
<rect x="493.77" y="638.40" width="7.31" height="7.00" fill="#F8A73C" stroke="#EE6430" stroke-width="0.9" />
<text x="317.20" y="538.40" font-size="12" text-anchor="start" fill="#1a1a1a" >positive = 69.4%</text>
<text x="317.20" y="601.50" font-size="12" text-anchor="start" fill="#1a1a1a" >positive = 73.1%</text>
<text x="397.60" y="672.60" font-size="12" text-anchor="middle" fill="#1a1a1a" >abundance</text>
<rect x="546.40" y="505.70" width="7.80" height="64.80" fill="#595959" stroke="#333333" stroke-width="0.9" />
<line x1="554.20" y1="570.50" x2="764.60" y2="570.50" stroke="#444" stroke-width="1" />
<rect x="546.40" y="580.10" width="7.80" height="65.20" fill="#F8A73C" stroke="#EE6430" stroke-width="0.9" />
<line x1="554.20" y1="645.30" x2="764.60" y2="645.30" stroke="#EE6430" stroke-width="1" />
<line x1="536.00" y1="502.60" x2="536.00" y2="573.30" stroke="#8a8a8a" stroke-width="1.5" />
<line x1="536.00" y1="578.20" x2="536.00" y2="648.90" stroke="#8a8a8a" stroke-width="1.5" />
<line x1="535.25" y1="648.40" x2="774.80" y2="648.40" stroke="#5a5a5a" stroke-width="1.5" />
<line x1="533.30" y1="505.10" x2="536.00" y2="505.10" stroke="#8a8a8a" stroke-width="1" />
<text transform="translate(533.50,508.89) scale(0.9,1)" font-size="10.6" text-anchor="end" fill="#4D4D4D">2000</text>
<line x1="533.30" y1="570.50" x2="536.00" y2="570.50" stroke="#8a8a8a" stroke-width="1" />
<text transform="translate(533.50,574.29) scale(0.9,1)" font-size="10.6" text-anchor="end" fill="#4D4D4D">0</text>
<line x1="533.30" y1="594.50" x2="536.00" y2="594.50" stroke="#8a8a8a" stroke-width="1" />
<text transform="translate(533.50,598.29) scale(0.9,1)" font-size="10.6" text-anchor="end" fill="#4D4D4D">100</text>
<line x1="533.30" y1="645.30" x2="536.00" y2="645.30" stroke="#8a8a8a" stroke-width="1" />
<text transform="translate(533.50,649.09) scale(0.9,1)" font-size="10.6" text-anchor="end" fill="#4D4D4D">0</text>
<line x1="550.30" y1="648.40" x2="550.30" y2="651.10" stroke="#5a5a5a" stroke-width="1" />
<text transform="translate(550.30,659.19) scale(0.9,1)" font-size="10.6" text-anchor="middle" fill="#4D4D4D">0</text>
<line x1="608.40" y1="648.40" x2="608.40" y2="651.10" stroke="#5a5a5a" stroke-width="1" />
<text transform="translate(608.40,659.19) scale(0.9,1)" font-size="10.6" text-anchor="middle" fill="#4D4D4D">2</text>
<line x1="664.90" y1="648.40" x2="664.90" y2="651.10" stroke="#5a5a5a" stroke-width="1" />
<text transform="translate(664.90,659.19) scale(0.9,1)" font-size="10.6" text-anchor="middle" fill="#4D4D4D">4</text>
<line x1="721.90" y1="648.40" x2="721.90" y2="651.10" stroke="#5a5a5a" stroke-width="1" />
<text transform="translate(721.90,659.19) scale(0.9,1)" font-size="10.6" text-anchor="middle" fill="#4D4D4D">6</text>
<rect x="655.50" y="569.90" width="7.50" height="0.60" fill="#595959" stroke="#333333" stroke-width="0.8" />
<rect x="663.00" y="569.60" width="7.00" height="0.90" fill="#595959" stroke="#333333" stroke-width="0.8" />
<rect x="670.00" y="569.50" width="7.00" height="1.00" fill="#595959" stroke="#333333" stroke-width="0.8" />
<rect x="677.00" y="569.60" width="7.00" height="0.90" fill="#595959" stroke="#333333" stroke-width="0.8" />
<rect x="684.00" y="569.70" width="7.00" height="0.80" fill="#595959" stroke="#333333" stroke-width="0.8" />
<rect x="691.00" y="569.90" width="7.80" height="0.60" fill="#595959" stroke="#333333" stroke-width="0.8" />
<rect x="648.20" y="644.80" width="6.80" height="0.50" fill="#F8A73C" stroke="#EE6430" stroke-width="0.8" />
<rect x="655.00" y="644.50" width="7.00" height="0.80" fill="#F8A73C" stroke="#EE6430" stroke-width="0.8" />
<rect x="662.00" y="644.10" width="7.50" height="1.20" fill="#F8A73C" stroke="#EE6430" stroke-width="0.8" />
<rect x="669.50" y="644.60" width="7.20" height="0.70" fill="#F8A73C" stroke="#EE6430" stroke-width="0.8" />
<rect x="684.10" y="644.50" width="7.40" height="0.80" fill="#F8A73C" stroke="#EE6430" stroke-width="0.8" />
<rect x="691.50" y="644.20" width="8.10" height="1.10" fill="#F8A73C" stroke="#EE6430" stroke-width="0.8" />
<text x="576.00" y="538.40" font-size="12" text-anchor="start" fill="#1a1a1a" >positive = 9.8%</text>
<text x="576.00" y="601.50" font-size="12" text-anchor="start" fill="#1a1a1a" >positive = 6%</text>
<line x1="778.20" y1="502.10" x2="778.20" y2="575.00" stroke="#444" stroke-width="1.2" />
<line x1="778.20" y1="584.80" x2="778.20" y2="657.30" stroke="#EF5A2A" stroke-width="1.2" />
<text transform="translate(791.60,541.80) rotate(-90)" font-size="11.8" text-anchor="middle" fill="#1a1a1a">control</text>
<text transform="translate(791.60,621.50) rotate(-90)" font-size="11.8" text-anchor="middle" fill="#EF5A2A">targeted</text>
<text transform="translate(16.00,570.00) rotate(-90)" font-size="12" text-anchor="middle" fill="#1a1a1a">count</text>
<circle cx="125.70" cy="721.40" r="2.2" fill="#4D4D4D"/>
<circle cx="124.37" cy="723.40" r="2.2" fill="#4D4D4D"/>
<circle cx="125.70" cy="725.80" r="2.2" fill="#4D4D4D"/>
<circle cx="123.91" cy="727.40" r="2.2" fill="#4D4D4D"/>
<circle cx="125.70" cy="729.40" r="2.2" fill="#4D4D4D"/>
<circle cx="124.37" cy="731.40" r="2.2" fill="#4D4D4D"/>
<circle cx="125.70" cy="733.40" r="2.2" fill="#4D4D4D"/>
<circle cx="124.37" cy="735.40" r="2.2" fill="#4D4D4D"/>
<circle cx="125.70" cy="737.40" r="2.2" fill="#4D4D4D"/>
<circle cx="123.91" cy="739.00" r="2.2" fill="#4D4D4D"/>
<circle cx="125.70" cy="741.40" r="2.2" fill="#4D4D4D"/>
<circle cx="125.70" cy="743.80" r="2.2" fill="#4D4D4D"/>
<circle cx="127.49" cy="745.40" r="2.2" fill="#4D4D4D"/>
<circle cx="124.37" cy="745.80" r="2.2" fill="#4D4D4D"/>
<circle cx="125.70" cy="747.80" r="2.2" fill="#4D4D4D"/>
<circle cx="124.37" cy="749.80" r="2.2" fill="#4D4D4D"/>
<circle cx="127.03" cy="749.80" r="2.2" fill="#4D4D4D"/>
<circle cx="125.70" cy="751.80" r="2.2" fill="#4D4D4D"/>
<circle cx="122.29" cy="751.00" r="2.2" fill="#4D4D4D"/>
<circle cx="128.82" cy="751.40" r="2.2" fill="#4D4D4D"/>
<circle cx="124.37" cy="753.80" r="2.2" fill="#4D4D4D"/>
<circle cx="127.49" cy="753.40" r="2.2" fill="#4D4D4D"/>
<circle cx="128.53" cy="755.80" r="2.2" fill="#4D4D4D"/>
<circle cx="126.16" cy="755.40" r="2.2" fill="#4D4D4D"/>
<circle cx="122.58" cy="755.40" r="2.2" fill="#4D4D4D"/>
<circle cx="121.26" cy="757.40" r="2.2" fill="#4D4D4D"/>
<circle cx="124.37" cy="757.00" r="2.2" fill="#4D4D4D"/>
<circle cx="126.64" cy="757.80" r="2.2" fill="#4D4D4D"/>
<circle cx="125.31" cy="759.80" r="2.2" fill="#4D4D4D"/>
<circle cx="127.96" cy="759.80" r="2.2" fill="#4D4D4D"/>
<circle cx="123.52" cy="761.40" r="2.2" fill="#4D4D4D"/>
<circle cx="129.75" cy="761.40" r="2.2" fill="#4D4D4D"/>
<circle cx="121.12" cy="761.40" r="2.2" fill="#4D4D4D"/>
<circle cx="125.70" cy="763.40" r="2.2" fill="#4D4D4D"/>
<circle cx="128.07" cy="763.80" r="2.2" fill="#4D4D4D"/>
<circle cx="123.91" cy="765.00" r="2.2" fill="#4D4D4D"/>
<circle cx="126.17" cy="765.80" r="2.2" fill="#4D4D4D"/>
<circle cx="124.39" cy="767.40" r="2.2" fill="#4D4D4D"/>
<circle cx="127.96" cy="767.40" r="2.2" fill="#4D4D4D"/>
<circle cx="121.99" cy="767.40" r="2.2" fill="#4D4D4D"/>
<circle cx="125.71" cy="769.40" r="2.2" fill="#4D4D4D"/>
<circle cx="129.29" cy="769.40" r="2.2" fill="#4D4D4D"/>
<circle cx="123.35" cy="769.80" r="2.2" fill="#4D4D4D"/>
<circle cx="127.50" cy="771.00" r="2.2" fill="#4D4D4D"/>
<circle cx="121.56" cy="771.40" r="2.2" fill="#4D4D4D"/>
<circle cx="125.70" cy="773.00" r="2.2" fill="#4D4D4D"/>
<circle cx="123.33" cy="773.40" r="2.2" fill="#4D4D4D"/>
<circle cx="128.83" cy="773.00" r="2.2" fill="#4D4D4D"/>
<circle cx="120.23" cy="773.40" r="2.2" fill="#4D4D4D"/>
<circle cx="127.03" cy="775.00" r="2.2" fill="#4D4D4D"/>
<circle cx="124.66" cy="775.40" r="2.2" fill="#4D4D4D"/>
<circle cx="122.29" cy="775.80" r="2.2" fill="#4D4D4D"/>
<circle cx="125.99" cy="777.40" r="2.2" fill="#4D4D4D"/>
<circle cx="120.50" cy="777.40" r="2.2" fill="#4D4D4D"/>
<circle cx="128.35" cy="777.00" r="2.2" fill="#4D4D4D"/>
<circle cx="123.62" cy="777.80" r="2.2" fill="#4D4D4D"/>
<circle cx="130.75" cy="777.00" r="2.2" fill="#4D4D4D"/>
<circle cx="124.95" cy="779.80" r="2.2" fill="#4D4D4D"/>
<circle cx="127.31" cy="779.40" r="2.2" fill="#4D4D4D"/>
<circle cx="132.08" cy="779.00" r="2.2" fill="#4D4D4D"/>
<circle cx="123.16" cy="781.40" r="2.2" fill="#4D4D4D"/>
<circle cx="126.27" cy="781.80" r="2.2" fill="#4D4D4D"/>
<circle cx="128.64" cy="781.40" r="2.2" fill="#4D4D4D"/>
<circle cx="124.48" cy="783.40" r="2.2" fill="#4D4D4D"/>
<circle cx="121.37" cy="783.00" r="2.2" fill="#4D4D4D"/>
<circle cx="119.00" cy="783.40" r="2.2" fill="#4D4D4D"/>
<circle cx="130.43" cy="783.00" r="2.2" fill="#4D4D4D"/>
<circle cx="125.81" cy="785.40" r="2.2" fill="#4D4D4D"/>
<circle cx="128.21" cy="785.40" r="2.2" fill="#4D4D4D"/>
<circle cx="123.45" cy="785.80" r="2.2" fill="#4D4D4D"/>
<circle cx="130.00" cy="787.00" r="2.2" fill="#4D4D4D"/>
<circle cx="121.37" cy="787.00" r="2.2" fill="#4D4D4D"/>
<circle cx="124.37" cy="821.40" r="2.2" fill="#4D4D4D"/>
<circle cx="121.97" cy="821.40" r="2.2" fill="#4D4D4D"/>
<circle cx="126.74" cy="821.80" r="2.2" fill="#4D4D4D"/>
<circle cx="129.86" cy="821.40" r="2.2" fill="#4D4D4D"/>
<circle cx="119.57" cy="821.40" r="2.2" fill="#4D4D4D"/>
<circle cx="128.53" cy="823.40" r="2.2" fill="#4D4D4D"/>
<circle cx="115.42" cy="823.40" r="2.2" fill="#4D4D4D"/>
<circle cx="131.64" cy="823.00" r="2.2" fill="#4D4D4D"/>
<circle cx="117.78" cy="823.00" r="2.2" fill="#4D4D4D"/>
<circle cx="136.41" cy="823.40" r="2.2" fill="#4D4D4D"/>
<circle cx="113.02" cy="823.40" r="2.2" fill="#4D4D4D"/>
<circle cx="125.41" cy="823.80" r="2.2" fill="#4D4D4D"/>
<circle cx="134.04" cy="823.00" r="2.2" fill="#4D4D4D"/>
<circle cx="138.81" cy="823.40" r="2.2" fill="#4D4D4D"/>
<circle cx="123.33" cy="825.00" r="2.2" fill="#4D4D4D"/>
<circle cx="130.32" cy="825.00" r="2.2" fill="#4D4D4D"/>
<circle cx="120.93" cy="825.00" r="2.2" fill="#4D4D4D"/>
<circle cx="127.20" cy="825.40" r="2.2" fill="#4D4D4D"/>
<circle cx="111.23" cy="825.00" r="2.2" fill="#4D4D4D"/>
<circle cx="123.05" cy="827.40" r="2.2" fill="#4D4D4D"/>
<circle cx="128.53" cy="827.40" r="2.2" fill="#4D4D4D"/>
<circle cx="125.41" cy="827.00" r="2.2" fill="#4D4D4D"/>
<circle cx="120.68" cy="827.80" r="2.2" fill="#4D4D4D"/>
<circle cx="126.74" cy="829.00" r="2.2" fill="#4D4D4D"/>
<circle cx="124.37" cy="829.40" r="2.2" fill="#4D4D4D"/>
<circle cx="129.86" cy="829.40" r="2.2" fill="#4D4D4D"/>
<circle cx="132.26" cy="829.40" r="2.2" fill="#4D4D4D"/>
<circle cx="128.07" cy="831.00" r="2.2" fill="#4D4D4D"/>
<circle cx="125.70" cy="831.40" r="2.2" fill="#4D4D4D"/>
<circle cx="123.05" cy="831.40" r="2.2" fill="#4D4D4D"/>
<circle cx="127.03" cy="833.40" r="2.2" fill="#4D4D4D"/>
<circle cx="129.39" cy="833.80" r="2.2" fill="#4D4D4D"/>
<circle cx="124.37" cy="833.40" r="2.2" fill="#4D4D4D"/>
<circle cx="125.70" cy="835.40" r="2.2" fill="#4D4D4D"/>
<circle cx="123.05" cy="835.40" r="2.2" fill="#4D4D4D"/>
<circle cx="127.49" cy="837.00" r="2.2" fill="#4D4D4D"/>
<circle cx="129.75" cy="837.80" r="2.2" fill="#4D4D4D"/>
<circle cx="124.37" cy="837.40" r="2.2" fill="#4D4D4D"/>
<circle cx="121.72" cy="837.40" r="2.2" fill="#4D4D4D"/>
<circle cx="126.16" cy="839.00" r="2.2" fill="#4D4D4D"/>
<circle cx="123.05" cy="839.40" r="2.2" fill="#4D4D4D"/>
<circle cx="125.70" cy="841.40" r="2.2" fill="#4D4D4D"/>
<circle cx="128.10" cy="841.40" r="2.2" fill="#4D4D4D"/>
<circle cx="124.37" cy="843.40" r="2.2" fill="#4D4D4D"/>
<circle cx="129.43" cy="843.40" r="2.2" fill="#4D4D4D"/>
<circle cx="128.07" cy="845.80" r="2.2" fill="#4D4D4D"/>
<circle cx="125.70" cy="845.40" r="2.2" fill="#4D4D4D"/>
<circle cx="126.17" cy="847.80" r="2.2" fill="#4D4D4D"/>
<circle cx="123.91" cy="847.00" r="2.2" fill="#4D4D4D"/>
<circle cx="124.39" cy="849.40" r="2.2" fill="#4D4D4D"/>
<circle cx="127.96" cy="849.40" r="2.2" fill="#4D4D4D"/>
<circle cx="125.71" cy="851.40" r="2.2" fill="#4D4D4D"/>
<circle cx="123.35" cy="851.80" r="2.2" fill="#4D4D4D"/>
<circle cx="127.50" cy="853.00" r="2.2" fill="#4D4D4D"/>
<circle cx="125.24" cy="853.80" r="2.2" fill="#4D4D4D"/>
<circle cx="123.16" cy="855.00" r="2.2" fill="#4D4D4D"/>
<circle cx="125.70" cy="857.40" r="2.2" fill="#4D4D4D"/>
<circle cx="123.91" cy="859.00" r="2.2" fill="#4D4D4D"/>
<circle cx="127.49" cy="859.00" r="2.2" fill="#4D4D4D"/>
<circle cx="125.70" cy="861.40" r="2.2" fill="#4D4D4D"/>
<circle cx="128.07" cy="861.80" r="2.2" fill="#4D4D4D"/>
<circle cx="124.37" cy="863.40" r="2.2" fill="#4D4D4D"/>
<circle cx="125.70" cy="865.80" r="2.2" fill="#4D4D4D"/>
<circle cx="125.70" cy="703.20" r="2.2" fill="#4D4D4D"/>
<circle cx="125.70" cy="710.50" r="2.2" fill="#4D4D4D"/>
<circle cx="125.70" cy="871.40" r="2.2" fill="#4D4D4D"/>
<circle cx="125.70" cy="877.20" r="2.2" fill="#4D4D4D"/>
<circle cx="125.70" cy="880.00" r="2.2" fill="#4D4D4D"/>
<circle cx="125.70" cy="882.60" r="2.2" fill="#4D4D4D"/>
<circle cx="125.70" cy="893.10" r="2.2" fill="#4D4D4D"/>
<circle cx="125.70" cy="932.30" r="2.2" fill="#4D4D4D"/>
<circle cx="132.37" cy="787.40" r="2.2" fill="#A8A8A8"/>
<circle cx="119.00" cy="787.40" r="2.2" fill="#A8A8A8"/>
<circle cx="128.07" cy="789.40" r="2.2" fill="#A8A8A8"/>
<circle cx="120.93" cy="789.40" r="2.2" fill="#A8A8A8"/>
<circle cx="125.70" cy="789.00" r="2.2" fill="#A8A8A8"/>
<circle cx="130.47" cy="789.40" r="2.2" fill="#A8A8A8"/>
<circle cx="123.30" cy="789.00" r="2.2" fill="#A8A8A8"/>
<circle cx="125.70" cy="791.40" r="2.2" fill="#A8A8A8"/>
<circle cx="119.14" cy="791.00" r="2.2" fill="#A8A8A8"/>
<circle cx="132.26" cy="791.00" r="2.2" fill="#A8A8A8"/>
<circle cx="123.30" cy="791.40" r="2.2" fill="#A8A8A8"/>
<circle cx="116.78" cy="791.40" r="2.2" fill="#A8A8A8"/>
<circle cx="134.62" cy="791.40" r="2.2" fill="#A8A8A8"/>
<circle cx="127.03" cy="793.40" r="2.2" fill="#A8A8A8"/>
<circle cx="129.43" cy="793.40" r="2.2" fill="#A8A8A8"/>
<circle cx="121.97" cy="793.40" r="2.2" fill="#A8A8A8"/>
<circle cx="131.83" cy="793.40" r="2.2" fill="#A8A8A8"/>
<circle cx="119.57" cy="793.40" r="2.2" fill="#A8A8A8"/>
<circle cx="118.25" cy="795.40" r="2.2" fill="#A8A8A8"/>
<circle cx="124.66" cy="793.80" r="2.2" fill="#A8A8A8"/>
<circle cx="133.15" cy="795.40" r="2.2" fill="#A8A8A8"/>
<circle cx="125.99" cy="795.80" r="2.2" fill="#A8A8A8"/>
<circle cx="115.85" cy="795.40" r="2.2" fill="#A8A8A8"/>
<circle cx="123.33" cy="795.80" r="2.2" fill="#A8A8A8"/>
<circle cx="127.78" cy="797.40" r="2.2" fill="#A8A8A8"/>
<circle cx="124.66" cy="797.80" r="2.2" fill="#A8A8A8"/>
<circle cx="121.54" cy="797.40" r="2.2" fill="#A8A8A8"/>
<circle cx="130.18" cy="797.40" r="2.2" fill="#A8A8A8"/>
<circle cx="134.48" cy="797.40" r="2.2" fill="#A8A8A8"/>
<circle cx="126.45" cy="799.40" r="2.2" fill="#A8A8A8"/>
<circle cx="122.87" cy="799.40" r="2.2" fill="#A8A8A8"/>
<circle cx="120.22" cy="799.40" r="2.2" fill="#A8A8A8"/>
<circle cx="131.50" cy="799.40" r="2.2" fill="#A8A8A8"/>
<circle cx="117.82" cy="799.40" r="2.2" fill="#A8A8A8"/>
<circle cx="128.82" cy="799.80" r="2.2" fill="#A8A8A8"/>
<circle cx="121.54" cy="801.40" r="2.2" fill="#A8A8A8"/>
<circle cx="132.83" cy="801.40" r="2.2" fill="#A8A8A8"/>
<circle cx="124.66" cy="801.00" r="2.2" fill="#A8A8A8"/>
<circle cx="126.92" cy="801.80" r="2.2" fill="#A8A8A8"/>
<circle cx="116.49" cy="801.40" r="2.2" fill="#A8A8A8"/>
<circle cx="135.23" cy="801.40" r="2.2" fill="#A8A8A8"/>
<circle cx="125.60" cy="803.80" r="2.2" fill="#A8A8A8"/>
<circle cx="123.33" cy="803.00" r="2.2" fill="#A8A8A8"/>
<circle cx="128.25" cy="803.80" r="2.2" fill="#A8A8A8"/>
<circle cx="121.07" cy="803.80" r="2.2" fill="#A8A8A8"/>
<circle cx="126.92" cy="805.80" r="2.2" fill="#A8A8A8"/>
<circle cx="123.81" cy="805.40" r="2.2" fill="#A8A8A8"/>
<circle cx="130.33" cy="805.00" r="2.2" fill="#A8A8A8"/>
<circle cx="119.28" cy="805.40" r="2.2" fill="#A8A8A8"/>
<circle cx="132.69" cy="805.40" r="2.2" fill="#A8A8A8"/>
<circle cx="116.88" cy="805.40" r="2.2" fill="#A8A8A8"/>
<circle cx="135.09" cy="805.40" r="2.2" fill="#A8A8A8"/>
<circle cx="125.13" cy="807.40" r="2.2" fill="#A8A8A8"/>
<circle cx="131.37" cy="807.40" r="2.2" fill="#A8A8A8"/>
<circle cx="129.00" cy="807.00" r="2.2" fill="#A8A8A8"/>
<circle cx="122.02" cy="807.00" r="2.2" fill="#A8A8A8"/>
<circle cx="115.56" cy="807.40" r="2.2" fill="#A8A8A8"/>
<circle cx="129.29" cy="809.40" r="2.2" fill="#A8A8A8"/>
<circle cx="126.92" cy="809.00" r="2.2" fill="#A8A8A8"/>
<circle cx="116.21" cy="809.80" r="2.2" fill="#A8A8A8"/>
<circle cx="120.98" cy="809.40" r="2.2" fill="#A8A8A8"/>
<circle cx="123.35" cy="809.00" r="2.2" fill="#A8A8A8"/>
<circle cx="132.69" cy="809.40" r="2.2" fill="#A8A8A8"/>
<circle cx="118.58" cy="809.40" r="2.2" fill="#A8A8A8"/>
<circle cx="127.96" cy="811.40" r="2.2" fill="#A8A8A8"/>
<circle cx="135.09" cy="809.40" r="2.2" fill="#A8A8A8"/>
<circle cx="123.23" cy="811.40" r="2.2" fill="#A8A8A8"/>
<circle cx="120.86" cy="811.80" r="2.2" fill="#A8A8A8"/>
<circle cx="125.60" cy="811.00" r="2.2" fill="#A8A8A8"/>
<circle cx="130.62" cy="811.40" r="2.2" fill="#A8A8A8"/>
<circle cx="136.42" cy="811.40" r="2.2" fill="#A8A8A8"/>
<circle cx="114.42" cy="811.40" r="2.2" fill="#A8A8A8"/>
<circle cx="138.82" cy="811.40" r="2.2" fill="#A8A8A8"/>
<circle cx="112.02" cy="811.40" r="2.2" fill="#A8A8A8"/>
<circle cx="141.22" cy="811.40" r="2.2" fill="#A8A8A8"/>
<circle cx="118.46" cy="811.80" r="2.2" fill="#A8A8A8"/>
<circle cx="125.70" cy="813.40" r="2.2" fill="#A8A8A8"/>
<circle cx="129.29" cy="813.40" r="2.2" fill="#A8A8A8"/>
<circle cx="132.40" cy="813.00" r="2.2" fill="#A8A8A8"/>
<circle cx="134.77" cy="813.40" r="2.2" fill="#A8A8A8"/>
<circle cx="116.38" cy="813.00" r="2.2" fill="#A8A8A8"/>
<circle cx="110.70" cy="813.40" r="2.2" fill="#A8A8A8"/>
<circle cx="142.55" cy="813.40" r="2.2" fill="#A8A8A8"/>
<circle cx="108.30" cy="813.40" r="2.2" fill="#A8A8A8"/>
<circle cx="132.98" cy="815.80" r="2.2" fill="#A8A8A8"/>
<circle cx="117.21" cy="815.80" r="2.2" fill="#A8A8A8"/>
<circle cx="124.37" cy="815.40" r="2.2" fill="#A8A8A8"/>
<circle cx="121.97" cy="815.40" r="2.2" fill="#A8A8A8"/>
<circle cx="130.62" cy="815.40" r="2.2" fill="#A8A8A8"/>
<circle cx="127.49" cy="815.00" r="2.2" fill="#A8A8A8"/>
<circle cx="119.57" cy="815.40" r="2.2" fill="#A8A8A8"/>
<circle cx="135.38" cy="815.80" r="2.2" fill="#A8A8A8"/>
<circle cx="114.81" cy="815.80" r="2.2" fill="#A8A8A8"/>
<circle cx="128.53" cy="817.40" r="2.2" fill="#A8A8A8"/>
<circle cx="123.90" cy="817.80" r="2.2" fill="#A8A8A8"/>
<circle cx="137.17" cy="817.40" r="2.2" fill="#A8A8A8"/>
<circle cx="113.02" cy="817.40" r="2.2" fill="#A8A8A8"/>
<circle cx="126.16" cy="817.00" r="2.2" fill="#A8A8A8"/>
<circle cx="121.50" cy="817.80" r="2.2" fill="#A8A8A8"/>
<circle cx="139.57" cy="817.40" r="2.2" fill="#A8A8A8"/>
<circle cx="130.90" cy="817.80" r="2.2" fill="#A8A8A8"/>
<circle cx="119.42" cy="819.00" r="2.2" fill="#A8A8A8"/>
<circle cx="125.70" cy="819.40" r="2.2" fill="#A8A8A8"/>
<circle cx="128.07" cy="819.80" r="2.2" fill="#A8A8A8"/>
<circle cx="132.97" cy="819.00" r="2.2" fill="#A8A8A8"/>
<circle cx="137.71" cy="819.80" r="2.2" fill="#A8A8A8"/>
<circle cx="117.05" cy="819.40" r="2.2" fill="#A8A8A8"/>
<circle cx="112.29" cy="819.80" r="2.2" fill="#A8A8A8"/>
<circle cx="135.34" cy="819.40" r="2.2" fill="#A8A8A8"/>
<circle cx="114.65" cy="819.40" r="2.2" fill="#A8A8A8"/>
<line x1="125.70" y1="724.00" x2="125.70" y2="787.30" stroke="#333" stroke-width="0.9" />
<line x1="125.70" y1="820.40" x2="125.70" y2="866.00" stroke="#333" stroke-width="0.9" />
<rect x="97.00" y="787.30" width="57.90" height="33.10" fill="none" stroke="#555" stroke-width="1" />
<line x1="90.2" y1="809.4" x2="161.3" y2="809.4" stroke="#555" stroke-width="2.3" stroke-linecap="round"/>
<line x1="167.00" y1="785.30" x2="167.00" y2="824.20" stroke="#666" stroke-width="1.2" />
<polygon points="167.00,781.30 169.60,786.80 164.40,786.80" fill="#111"/>
<polygon points="167.00,828.20 164.40,822.70 169.60,822.70" fill="#111"/>
<line x1="204.10" y1="804.00" x2="204.10" y2="823.40" stroke="#666" stroke-width="1.2" />
<polygon points="204.10,800.00 206.70,805.50 201.50,805.50" fill="#111"/>
<polygon points="204.10,827.40 201.50,821.90 206.70,821.90" fill="#111"/>
<text x="186.50" y="823.20" font-size="22" text-anchor="middle" fill="#1a1a1a" font-weight="bold" letter-spacing="0.9">**</text>
<circle cx="241.80" cy="804.72" r="2.1" fill="#F6AE95"/>
<circle cx="239.81" cy="805.86" r="2.1" fill="#F6AE95"/>
<circle cx="243.02" cy="806.66" r="2.1" fill="#F6AE95"/>
<circle cx="245.21" cy="807.36" r="2.1" fill="#F6AE95"/>
<circle cx="241.12" cy="807.95" r="2.1" fill="#F6AE95"/>
<circle cx="243.14" cy="809.05" r="2.1" fill="#F6AE95"/>
<circle cx="239.76" cy="809.81" r="2.1" fill="#F6AE95"/>
<circle cx="245.07" cy="810.31" r="2.1" fill="#F6AE95"/>
<circle cx="237.73" cy="810.90" r="2.1" fill="#F6AE95"/>
<circle cx="241.80" cy="811.34" r="2.1" fill="#F6AE95"/>
<circle cx="246.81" cy="811.80" r="2.1" fill="#F6AE95"/>
<circle cx="239.89" cy="812.62" r="2.1" fill="#F6AE95"/>
<circle cx="242.77" cy="813.43" r="2.1" fill="#F6AE95"/>
<circle cx="245.03" cy="813.87" r="2.1" fill="#F6AE95"/>
<circle cx="241.14" cy="815.05" r="2.1" fill="#F6AE95"/>
<circle cx="238.88" cy="815.46" r="2.1" fill="#F6AE95"/>
<circle cx="243.05" cy="816.34" r="2.1" fill="#F6AE95"/>
<circle cx="240.39" cy="817.23" r="2.1" fill="#F6AE95"/>
<circle cx="242.07" cy="818.80" r="2.1" fill="#F6AE95"/>
<circle cx="239.93" cy="819.64" r="2.1" fill="#F6AE95"/>
<circle cx="243.19" cy="820.81" r="2.1" fill="#F6AE95"/>
<circle cx="241.12" cy="821.82" r="2.1" fill="#F6AE95"/>
<circle cx="244.58" cy="822.64" r="2.1" fill="#F6AE95"/>
<line x1="241.80" y1="777.00" x2="241.80" y2="803.60" stroke="#EF5A2A" stroke-width="1" />
<line x1="241.80" y1="824.50" x2="241.80" y2="849.00" stroke="#EF5A2A" stroke-width="1" />
<rect x="213.10" y="803.60" width="57.60" height="20.90" fill="none" stroke="#EF5A2A" stroke-width="1" />
<line x1="213.10" y1="813.40" x2="270.70" y2="813.40" stroke="#EF5A2A" stroke-width="1" />
<circle cx="241.80" cy="768.50" r="1.9" fill="#EF5A2A"/>
<circle cx="241.80" cy="777.10" r="1.9" fill="#EF5A2A"/>
<circle cx="241.00" cy="780.40" r="1.9" fill="#EF5A2A"/>
<circle cx="241.80" cy="789.90" r="1.9" fill="#EF5A2A"/>
<circle cx="241.80" cy="794.30" r="1.9" fill="#EF5A2A"/>
<circle cx="242.30" cy="796.70" r="1.9" fill="#EF5A2A"/>
<circle cx="241.80" cy="800.00" r="1.9" fill="#EF5A2A"/>
<circle cx="243.30" cy="802.30" r="1.9" fill="#EF5A2A"/>
<circle cx="240.30" cy="802.80" r="1.9" fill="#EF5A2A"/>
<circle cx="241.80" cy="825.30" r="1.9" fill="#EF5A2A"/>
<circle cx="241.80" cy="833.50" r="1.9" fill="#EF5A2A"/>
<circle cx="242.80" cy="836.00" r="1.9" fill="#EF5A2A"/>
<circle cx="241.80" cy="838.00" r="1.9" fill="#EF5A2A"/>
<circle cx="242.80" cy="845.00" r="1.9" fill="#EF5A2A"/>
<circle cx="241.80" cy="849.00" r="1.9" fill="#EF5A2A"/>
<circle cx="241.80" cy="858.00" r="2.2" fill="#EF5A2A"/>
<circle cx="241.80" cy="866.20" r="2.2" fill="#EF5A2A"/>
<circle cx="241.80" cy="900.60" r="2.2" fill="#EF5A2A"/>
<circle cx="241.80" cy="768.50" r="2.2" fill="#EF5A2A"/>
<line x1="79.50" y1="692.40" x2="79.50" y2="944.10" stroke="#555" stroke-width="1.1" />
<line x1="79.00" y1="943.60" x2="276.70" y2="943.60" stroke="#555" stroke-width="1.1" />
<line x1="76.80" y1="731.50" x2="79.50" y2="731.50" stroke="#555" stroke-width="1" />
<text transform="translate(74.60,735.87) scale(0.95,1)" font-size="12.2" text-anchor="end" fill="#4D4D4D">10%</text>
<line x1="76.80" y1="809.60" x2="79.50" y2="809.60" stroke="#555" stroke-width="1" />
<text transform="translate(74.60,813.97) scale(0.95,1)" font-size="12.2" text-anchor="end" fill="#4D4D4D">0%</text>
<line x1="76.80" y1="888.10" x2="79.50" y2="888.10" stroke="#555" stroke-width="1" />
<text transform="translate(74.60,892.47) scale(0.95,1)" font-size="12.2" text-anchor="end" fill="#4D4D4D">-10%</text>
<line x1="125.80" y1="943.60" x2="125.80" y2="946.30" stroke="#555" stroke-width="1" />
<line x1="241.90" y1="943.60" x2="241.90" y2="946.30" stroke="#555" stroke-width="1" />
<text x="125.80" y="956.80" font-size="12" text-anchor="middle" fill="#4D4D4D" >TFs</text>
<text x="126.60" y="971.70" font-size="12" text-anchor="middle" fill="#4D4D4D" >(no adaptation)</text>
<text x="241.90" y="956.80" font-size="12" text-anchor="middle" fill="#EF5A2A" >TFs</text>
<text x="242.80" y="971.70" font-size="12" text-anchor="middle" fill="#EF5A2A" >(adaptation)</text>
<text transform="translate(25.00,819.40) rotate(-90)" font-size="12" text-anchor="middle" fill="#1a1a1a">change in percent positive</text>
<text transform="translate(39.00,817.60) rotate(-90)" font-size="12" text-anchor="middle" fill="#1a1a1a">of downstream effector</text>
<rect x="367.10" y="925.76" width="9.45" height="7.64" fill="#595959" stroke="#333333" stroke-width="0.7" />
<rect x="376.55" y="927.67" width="9.45" height="5.73" fill="#595959" stroke="#333333" stroke-width="0.7" />
<rect x="386.00" y="927.67" width="9.45" height="5.73" fill="#595959" stroke="#333333" stroke-width="0.7" />
<rect x="395.45" y="923.85" width="9.45" height="9.55" fill="#595959" stroke="#333333" stroke-width="0.7" />
<rect x="404.90" y="916.21" width="9.45" height="17.19" fill="#595959" stroke="#333333" stroke-width="0.7" />
<rect x="414.35" y="910.48" width="9.45" height="22.92" fill="#595959" stroke="#333333" stroke-width="0.7" />
<rect x="423.80" y="879.92" width="9.45" height="53.48" fill="#595959" stroke="#333333" stroke-width="0.7" />
<rect x="433.25" y="858.91" width="9.45" height="74.49" fill="#595959" stroke="#333333" stroke-width="0.7" />
<rect x="442.70" y="828.35" width="9.45" height="105.05" fill="#595959" stroke="#333333" stroke-width="0.7" />
<rect x="452.15" y="855.09" width="9.45" height="78.31" fill="#595959" stroke="#333333" stroke-width="0.7" />
<rect x="461.60" y="818.80" width="9.45" height="114.60" fill="#595959" stroke="#333333" stroke-width="0.7" />
<rect x="471.05" y="811.16" width="9.45" height="122.24" fill="#595959" stroke="#333333" stroke-width="0.7" />
<rect x="480.50" y="792.06" width="9.45" height="141.34" fill="#595959" stroke="#333333" stroke-width="0.7" />
<rect x="489.95" y="755.77" width="9.45" height="177.63" fill="#595959" stroke="#333333" stroke-width="0.7" />
<rect x="499.40" y="750.04" width="9.45" height="183.36" fill="#595959" stroke="#333333" stroke-width="0.7" />
<rect x="508.85" y="793.97" width="9.45" height="139.43" fill="#595959" stroke="#333333" stroke-width="0.7" />
<rect x="518.30" y="763.41" width="9.45" height="169.99" fill="#595959" stroke="#333333" stroke-width="0.7" />
<rect x="527.75" y="818.80" width="9.45" height="114.60" fill="#595959" stroke="#333333" stroke-width="0.7" />
<rect x="537.20" y="837.90" width="9.45" height="95.50" fill="#595959" stroke="#333333" stroke-width="0.7" />
<rect x="546.65" y="851.27" width="9.45" height="82.13" fill="#595959" stroke="#333333" stroke-width="0.7" />
<rect x="556.10" y="868.46" width="9.45" height="64.94" fill="#595959" stroke="#333333" stroke-width="0.7" />
<rect x="565.55" y="895.20" width="9.45" height="38.20" fill="#595959" stroke="#333333" stroke-width="0.7" />
<rect x="575.00" y="900.93" width="9.45" height="32.47" fill="#595959" stroke="#333333" stroke-width="0.7" />
<rect x="584.45" y="912.39" width="9.45" height="21.01" fill="#595959" stroke="#333333" stroke-width="0.7" />
<rect x="593.90" y="921.94" width="9.45" height="11.46" fill="#595959" stroke="#333333" stroke-width="0.7" />
<rect x="603.35" y="925.76" width="9.45" height="7.64" fill="#595959" stroke="#333333" stroke-width="0.7" />
<rect x="612.80" y="923.85" width="9.45" height="9.55" fill="#595959" stroke="#333333" stroke-width="0.7" />
<rect x="622.25" y="931.49" width="9.45" height="1.91" fill="#595959" stroke="#333333" stroke-width="0.7" />
<rect x="641.15" y="931.49" width="9.45" height="1.91" fill="#595959" stroke="#333333" stroke-width="0.7" />
<line x1="631.70" y1="933.40" x2="641.15" y2="933.40" stroke="#bbb" stroke-width="0.8" />
<line x1="385.10" y1="741.80" x2="385.10" y2="942.80" stroke="#EF5A2A" stroke-width="1.6" />
<line x1="353.00" y1="742.40" x2="353.00" y2="943.30" stroke="#6E6E6E" stroke-width="1.5" />
<line x1="352.25" y1="942.80" x2="663.80" y2="942.80" stroke="#6E6E6E" stroke-width="1.5" />
<line x1="350.30" y1="933.40" x2="353.00" y2="933.40" stroke="#555" stroke-width="1" />
<text transform="translate(347.90,937.34) scale(0.95,1)" font-size="11.0" text-anchor="end" fill="#4D4D4D">0</text>
<line x1="350.30" y1="885.65" x2="353.00" y2="885.65" stroke="#555" stroke-width="1" />
<text transform="translate(347.90,889.59) scale(0.95,1)" font-size="11.0" text-anchor="end" fill="#4D4D4D">25</text>
<line x1="350.30" y1="837.90" x2="353.00" y2="837.90" stroke="#555" stroke-width="1" />
<text transform="translate(347.90,841.84) scale(0.95,1)" font-size="11.0" text-anchor="end" fill="#4D4D4D">50</text>
<line x1="350.30" y1="790.15" x2="353.00" y2="790.15" stroke="#555" stroke-width="1" />
<text transform="translate(347.90,794.09) scale(0.95,1)" font-size="11.0" text-anchor="end" fill="#4D4D4D">75</text>
<line x1="350.30" y1="742.40" x2="353.00" y2="742.40" stroke="#555" stroke-width="1" />
<text transform="translate(347.90,746.34) scale(0.95,1)" font-size="11.0" text-anchor="end" fill="#4D4D4D">100</text>
<line x1="417.60" y1="942.80" x2="417.60" y2="945.50" stroke="#555" stroke-width="1" />
<text transform="translate(417.60,954.48) scale(0.9,1)" font-size="10.0" text-anchor="middle" fill="#4D4D4D">0.03</text>
<line x1="508.40" y1="942.80" x2="508.40" y2="945.50" stroke="#555" stroke-width="1" />
<text transform="translate(508.40,954.48) scale(0.9,1)" font-size="10.0" text-anchor="middle" fill="#4D4D4D">0.04</text>
<line x1="599.70" y1="942.80" x2="599.70" y2="945.50" stroke="#555" stroke-width="1" />
<text transform="translate(599.70,954.48) scale(0.9,1)" font-size="10.0" text-anchor="middle" fill="#4D4D4D">0.05</text>
<text x="511.00" y="968.70" font-size="12" text-anchor="middle" fill="#1a1a1a" >standard deviation</text>
<text transform="translate(325.20,828.40) rotate(-90)" font-size="12" text-anchor="middle" fill="#1a1a1a">count</text>
<text x="437.00" y="705.50" font-size="12" text-anchor="middle" fill="#EF5A2A" >TFs exhibiting</text>
<text x="437.00" y="719.30" font-size="12" text-anchor="middle" fill="#EF5A2A" >transcriptional adaptation</text>
<path d="M435.1,722.8 C423.9,741.7 414.2,764.1 390.0,772.0" stroke="#222" stroke-width="1" fill="none"/>
<polygon points="386.00,771.80 390.64,769.04 391.16,773.36" fill="#222"/>
<text x="629.90" y="745.20" font-size="12" text-anchor="middle" fill="#555" >downsampled from</text>
<text x="629.90" y="760.20" font-size="12" text-anchor="middle" fill="#555" >all TFs not exhibiting</text>
<text x="629.90" y="774.40" font-size="12" text-anchor="middle" fill="#555" >transcriptional adaptation</text>
<path d="M616.4,782.9 C596.6,807.9 569.4,835.3 542.8,827.3" stroke="#222" stroke-width="1" fill="none"/>
<polygon points="539.00,826.00 544.44,825.34 543.16,829.56" fill="#222"/></svg>
</body></html>
